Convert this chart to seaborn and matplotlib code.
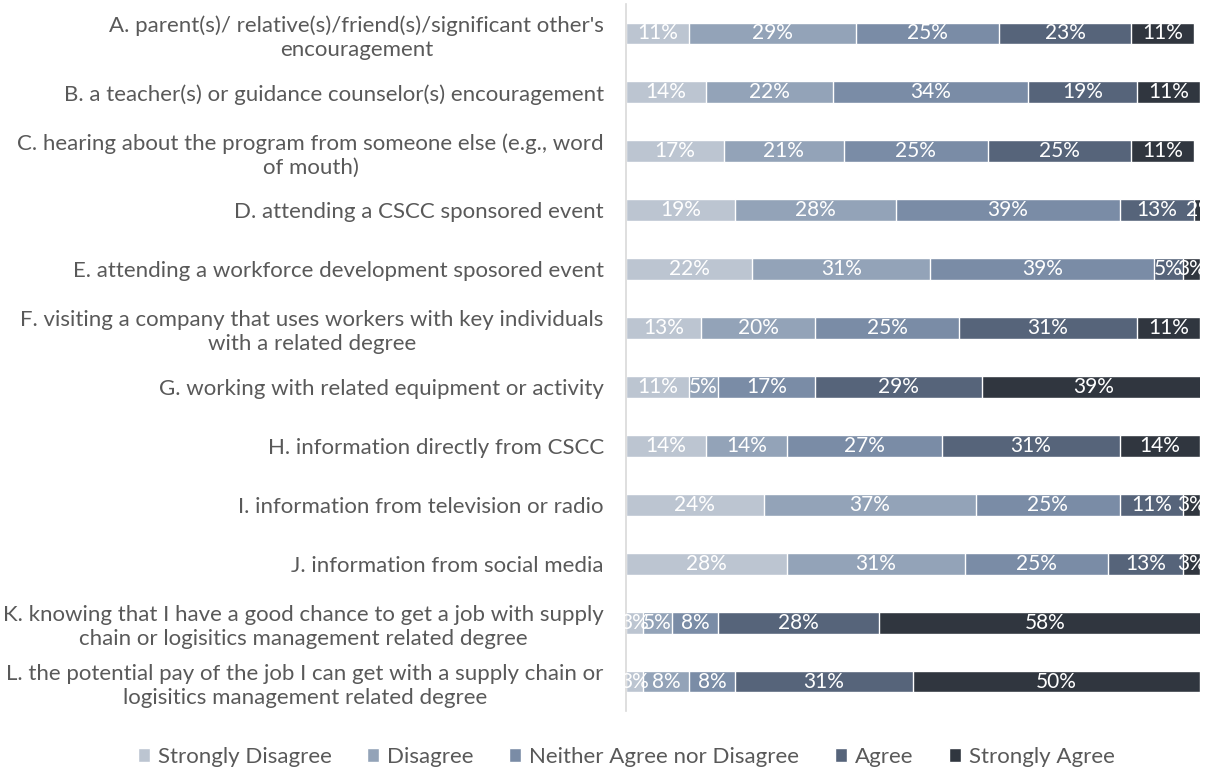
import matplotlib
matplotlib.use("Agg")
import matplotlib.pyplot as plt
import seaborn as sns
import numpy as np
import pandas as pd

sns.set_theme(style="white")
plt.rcParams["font.family"] = ["Lato", "DejaVu Sans"]

categories = [
    "A. parent(s)/ relative(s)/friend(s)/significant other's\nencouragement",
    "B. a teacher(s) or guidance counselor(s) encouragement",
    "C. hearing about the program from someone else (e.g., word\nof mouth)",
    "D. attending a CSCC sponsored event",
    "E. attending a workforce development sposored event",
    "F. visiting a company that uses workers with key individuals\nwith a related degree",
    "G. working with related equipment or activity",
    "H. information directly from CSCC",
    "I. information from television or radio",
    "J. information from social media",
    "K. knowing that I have a good chance to get a job with supply\nchain or logisitics management related degree",
    "L. the potential pay of the job I can get with a supply chain or\nlogisitics management related degree",
]

responses = ["Strongly Disagree", "Disagree", "Neither Agree nor Disagree",
             "Agree", "Strongly Agree"]

strongly_disagree = [11, 14, 17, 19, 22, 13, 11, 14, 24, 28, 3, 3]
disagree          = [29, 22, 21, 28, 31, 20, 5, 14, 37, 31, 5, 8]
neutral           = [25, 34, 25, 39, 39, 25, 17, 27, 25, 25, 8, 8]
agree             = [23, 19, 25, 13, 5, 31, 29, 31, 11, 13, 28, 31]
strongly_agree    = [11, 11, 11, 2, 3, 11, 39, 14, 3, 3, 58, 50]

colors = ["#BCC5D1", "#93A3B8", "#7A8CA6", "#56647A", "#30363F"]

series = [strongly_disagree, disagree, neutral, agree, strongly_agree]
vals = np.array(series, dtype=float) / 100.0
cum = np.cumsum(vals, axis=0)

fig = plt.figure(figsize=(12.1, 7.71), dpi=100)
ax = fig.add_axes([626 / 1210, 1 - 711 / 771, 574 / 1210, 707 / 771])

# stacked bars: draw cumulative totals from the outermost layer inward
for k in range(len(responses) - 1, -1, -1):
    df = pd.DataFrame({"cat": categories, "val": cum[k]})
    sns.barplot(data=df, x="val", y="cat", color=colors[k], orient="h",
                width=0.37, saturation=1, ax=ax, label=responses[k])

# value labels centred in each segment
for k in range(len(responses)):
    for i in range(len(categories)):
        start = cum[k, i] - vals[k, i]
        ax.text(start + vals[k, i] / 2, i, f"{series[k][i]}%",
                ha="center", va="center", color="white", fontsize=15,
                clip_on=False)

ax.set_xlim(0, 1)
ax.set_ylim(len(categories) - 0.5, -0.5)
ax.set_xlabel("")
ax.set_ylabel("")
ax.set_xticks([])
ax.tick_params(axis="y", length=0, pad=16, labelsize=16, labelcolor="#595959")
for lbl in ax.get_yticklabels():
    lbl.set_horizontalalignment("right")
    lbl.set_multialignment("center")
    lbl.set_linespacing(1.25)
for s in ["top", "right", "bottom"]:
    ax.spines[s].set_visible(False)
ax.spines["left"].set_color("#D9D9D9")
ax.spines["left"].set_linewidth(1.2)

handles, labels = ax.get_legend_handles_labels()
order = [labels.index(r) for r in responses]
ax.legend([handles[j] for j in order], responses, loc="center",
          bbox_to_anchor=(626 / 1210, 1 - 757 / 771), bbox_transform=fig.transFigure,
          ncol=5, frameon=False, fontsize=16, handlelength=0.55, handleheight=0.55,
          handletextpad=0.35, columnspacing=1.6, labelcolor="#595959")

fig.savefig("out.png", dpi=100)
